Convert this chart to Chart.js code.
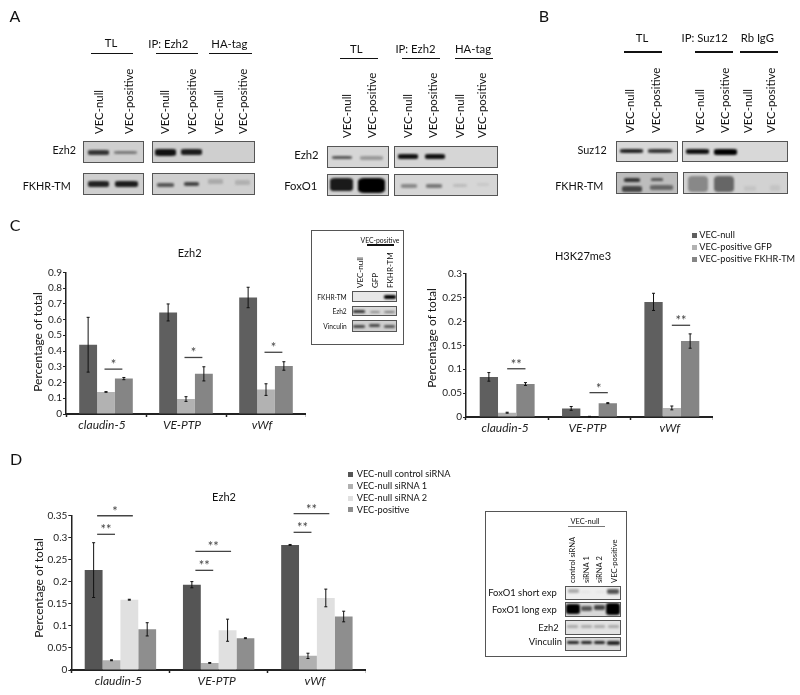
<!DOCTYPE html>
<html>
<head>
<meta charset="utf-8">
<title>Ezh2 figure</title>
<script src="https://cdn.jsdelivr.net/npm/chart.js@4.4.1/dist/chart.umd.min.js"></script>
<style>
  html, body { margin: 0; padding: 0; background: #fff; }
  #page { position: relative; width: 800px; height: 695px; overflow: hidden; font-family: Lato, sans-serif; color: #111; filter: blur(0.35px); }
  #page canvas { position: absolute; }
  .t { position: absolute; white-space: nowrap; line-height: 0; }
  .blot { position: absolute; box-sizing: border-box; border: 1px solid #555; overflow: hidden; }
  .band { position: absolute; border-radius: 22%; filter: blur(0.8px); }
  .rule { position: absolute; }
  .box { position: absolute; box-sizing: border-box; border: 1px solid #555; background: #fff; }
</style>
</head>
<body>
<div id="page"></div>
<script>
// categories shared by all three bar charts
const genes = ['claudin-5', 'VE-PTP', 'vWf'];

// panel C left, Ezh2
const cLeftTicks = ['0', '0.1', '0.2', '0.3', '0.4', '0.5', '0.6', '0.7', '0.8', '0.9'];
const cLeftNull = [0.44, 0.645, 0.74];
const cLeftGfp = [0.14, 0.095, 0.155];
const cLeftFkhr = [0.225, 0.255, 0.305];
const cLeftNullErr = [0.174, 0.054, 0.065];
const cLeftGfpErr = [0.002, 0.015, 0.037];
const cLeftFkhrErr = [0.007, 0.045, 0.027];
const cLeftSig = [[0, 1, 2, 0.285, '*'], [1, 1, 2, 0.359, '*'], [2, 1, 2, 0.392, '*']];

// panel C right, H3K27me3
const cRightTicks = ['0', '0.05', '0.1', '0.15', '0.2', '0.25', '0.3'];
const cRightNull = [0.084, 0.018, 0.241];
const cRightGfp = [0.009, 0.001, 0.019];
const cRightFkhr = [0.069, 0.029, 0.159];
const cRightNullErr = [0.009, 0.004, 0.018];
const cRightGfpErr = [0.001, 0.0005, 0.004];
const cRightFkhrErr = [0.003, 0.001, 0.015];
const cRightSig = [[0, 1, 2, 0.101, '**'], [1, 1, 2, 0.051, '*'], [2, 1, 2, 0.192, '**']];

// panel D, Ezh2 after knockdown
const dTicks = ['0', '0.05', '0.1', '0.15', '0.2', '0.25', '0.3', '0.35'];
const dControl = [0.226, 0.193, 0.283];
const dSi1 = [0.022, 0.016, 0.032];
const dSi2 = [0.159, 0.09, 0.163];
const dPositive = [0.092, 0.072, 0.121];
const dControlErr = [0.062, 0.007, 0.001];
const dSi1Err = [0.001, 0.001, 0.006];
const dSi2Err = [0.001, 0.025, 0.02];
const dPositiveErr = [0.015, 0.001, 0.012];
const dSig = [
  [0, 0, 1, 0.307, '**'], [0, 0, 2, 0.349, '*'],
  [1, 0, 1, 0.2255, '**'], [1, 0, 2, 0.2685, '**'],
  [2, 0, 1, 0.3115, '**'], [2, 0, 2, 0.354, '**']
];

// legends
const cSeries = ['VEC-null', 'VEC-positive GFP', 'VEC-positive FKHR-TM'];
const cColors = ['#5f5f5f', '#b2b2b2', '#858585'];
const dSeries = ['VEC-null control siRNA', 'VEC-null siRNA 1', 'VEC-null siRNA 2', 'VEC-positive'];
const dColors = ['#555555', '#b0b0b0', '#e0e0e0', '#8e8e8e'];

const page = document.getElementById('page');

function text(str, x, y, size, align, style) {
  var el = document.createElement('div');
  el.className = 't';
  el.textContent = str;
  el.style.left = x + 'px';
  el.style.top = y + 'px';
  el.style.fontSize = size + 'px';
  var shift = align == 'right' ? '-100%' : (align == 'left' ? '0' : '-50%');
  el.style.transform = 'translateX(' + shift + ')';
  if (style) el.style.cssText += style;
  page.appendChild(el);
  return el;
}

// rotated text reading upward, starts at (x, bottom)
function upText(str, x, bottom, size) {
  var el = text(str, x, bottom, size, 'left');
  el.style.transformOrigin = '0 0';
  el.style.transform = 'rotate(-90deg)';
}

function rule(x0, x1, y, color) {
  var el = document.createElement('div');
  el.className = 'rule';
  el.style.left = x0 + 'px';
  el.style.top = (y - 0.75) + 'px';
  el.style.width = (x1 - x0) + 'px';
  el.style.height = '1.5px';
  el.style.background = color || '#111';
  page.appendChild(el);
}

function blot(x0, y0, x1, y1, bg, bands) {
  var el = document.createElement('div');
  el.className = 'blot';
  el.style.left = x0 + 'px';
  el.style.top = y0 + 'px';
  el.style.width = (x1 - x0) + 'px';
  el.style.height = (y1 - y0) + 'px';
  el.style.background = bg;
  bands.forEach(function (b) {
    var s = document.createElement('div');
    s.className = 'band';
    s.style.left = (b[0] - b[2] / 2 - x0 - 1) + 'px';
    s.style.top = (b[1] - b[3] / 2 - y0 - 1) + 'px';
    s.style.width = b[2] + 'px';
    s.style.height = b[3] + 'px';
    s.style.background = b[4];
    el.appendChild(s);
  });
  page.appendChild(el);
}

function inset(x0, y0, x1, y1) {
  var el = document.createElement('div');
  el.className = 'box';
  el.style.left = x0 + 'px';
  el.style.top = y0 + 'px';
  el.style.width = (x1 - x0) + 'px';
  el.style.height = (y1 - y0) + 'px';
  page.appendChild(el);
}

// panel letters
text('A', 15, 16, 16);
text('B', 544, 16, 16);
text('C', 15, 225, 16);
text('D', 16, 459, 16);

// panel A left
text('TL', 111, 43, 11.3); rule(90.7, 133.3, 53.7);
text('IP: Ezh2', 168.3, 44, 11.3); rule(155.7, 197.7, 53.7);
text('HA-tag', 229.3, 44, 11.3); rule(209.3, 251.7, 53.7);
[99, 164.7, 218.7].forEach(function (x) { upText('VEC-null', x, 133.5, 11.4); });
[128.7, 192, 243.3].forEach(function (x) { upText('VEC-positive', x, 133.5, 11.4); });
text('Ezh2', 76, 149.7, 10.8, 'right');
text('FKHR-TM', 70.7, 186, 10.8, 'right');
blot(82.7, 141.3, 144.3, 162.7, '#cfcfcf', [[98.7, 152.3, 21, 4.5, '#333'], [126, 152.3, 23, 3.5, '#777']]);
blot(152.3, 141.3, 255.3, 162.7, '#cfcfcf', [[166, 152.3, 21, 6.5, '#111'], [191.7, 152.3, 21, 6, '#1c1c1c']]);
blot(82.7, 173.3, 144.3, 194.7, '#cfcfcf', [[98.7, 184.3, 21, 6, '#222'], [126.7, 184.3, 23, 6, '#1c1c1c']]);
blot(152.3, 173.3, 255.3, 194.7, '#cfcfcf', [[165.7, 185, 17, 4.5, '#555'], [191.7, 184, 15, 4, '#444'], [216, 181.7, 15, 5, '#aaa'], [242.3, 182.3, 15, 5, '#b0b0b0']]);

// panel A middle
text('TL', 356.3, 49, 11.3); rule(340, 378, 58.3);
text('IP: Ezh2', 415.5, 49, 11.3); rule(402.3, 440, 58.3);
text('HA-tag', 473, 49, 11.3); rule(455, 493.3, 58.3);
[346.7, 408.3, 460].forEach(function (x) { upText('VEC-null', x, 138, 11.4); });
[372.3, 433.3, 482.3].forEach(function (x) { upText('VEC-positive', x, 138, 11.4); });
text('Ezh2', 318.7, 155, 11.3, 'right');
text('FoxO1', 317.3, 186, 11.3, 'right');
blot(326.7, 146, 388.7, 167.7, '#d6d6d6', [[341.7, 157.3, 20, 3.5, '#555'], [371.7, 158, 23, 3.5, '#999']]);
blot(394.3, 146, 497.7, 167.7, '#d6d6d6', [[408, 156.7, 20, 5, '#111'], [435, 156.7, 20, 5.5, '#111']]);
blot(326.7, 174.3, 388.7, 196, '#d2d2d2', [[341.7, 185, 23, 13, '#1a1a1a'], [371.7, 185.7, 27, 14.5, '#000']]);
blot(394.3, 174.3, 497.7, 196, '#d6d6d6', [[409, 186, 16, 4, '#888'], [434, 186, 16, 4, '#777'], [460, 186, 14, 3, '#bbb'], [483, 185, 12, 3, '#c8c8c8']]);

// panel B
text('TL', 642, 38.3, 11.3); rule(624, 661.7, 52);
text('IP: Suz12', 704.7, 38.3, 11.3); rule(695.3, 733.3, 52);
text('Rb IgG', 757.3, 38.3, 11.3); rule(740, 777.7, 52);
[630, 700, 748.3].forEach(function (x) { upText('VEC-null', x, 133, 11.4); });
[655.7, 725, 771].forEach(function (x) { upText('VEC-positive', x, 133, 11.4); });
text('Suz12', 606.7, 150, 10.8, 'right');
text('FKHR-TM', 603.3, 186, 10.8, 'right');
blot(616, 140.7, 677.7, 162, '#d8d8d8', [[631.7, 150.7, 23, 4, '#222'], [660, 151.3, 24, 4, '#333']]);
blot(681.7, 140.7, 787.7, 162, '#d8d8d8', [[697.7, 151.3, 23, 4.5, '#111'], [725.7, 152, 23, 6, '#000']]);
blot(616, 172.3, 677.7, 194.3, '#bdbdbd', [[631.7, 180, 16, 3.5, '#333'], [631.7, 188.7, 20, 6, '#444'], [656.7, 179.3, 12, 2.5, '#555'], [661.7, 187.7, 23, 4.5, '#666']]);
blot(682.7, 172.3, 788.3, 194.3, '#d2d2d2', [[698.3, 184, 20, 16, '#888'], [724.3, 184, 20, 16, '#666'], [750, 188.3, 12, 5, '#c4c4c4'], [775, 187.7, 10, 6, '#c4c4c4']]);

// inset in panel C
inset(311, 230, 403.7, 345);
text('VEC-positive', 380, 240, 6.8);
rule(366.7, 394, 245);
upText('VEC-null', 360, 288, 8);
upText('GFP', 375, 288, 8);
upText('FKHR-TM', 390, 288, 8);
text('FKHR-TM', 346.7, 297, 6.6, 'right');
text('Ezh2', 346.7, 311, 6.6, 'right');
text('Vinculin', 346.7, 326, 6.6, 'right');
blot(351.7, 291, 397.3, 302.3, '#e8e8e8', [[390, 296.7, 12, 4, '#000']]);
blot(351.7, 305.7, 397.3, 316, '#d8d8d8', [[359.3, 311.7, 12, 2.5, '#333'], [375, 312, 10, 2, '#888'], [389.3, 312, 11, 2, '#777']]);
blot(351.7, 320, 397.3, 331.7, '#cfcfcf', [[359.3, 326, 12, 3, '#444'], [375, 325.3, 11, 3, '#444'], [390, 326, 11, 3, '#555']]);

// inset in panel D
inset(485, 511, 626.7, 657.3);
text('VEC-null', 585, 521.7, 7.5);
rule(568, 605, 526.7, '#777');
upText('control siRNA', 572.3, 583, 7.6);
upText('siRNA 1', 585.7, 583, 7.6);
upText('siRNA 2', 599.3, 583, 7.6);
upText('VEC-positive', 614, 583, 7.6);
text('FoxO1 short exp', 556.7, 592.7, 9.4, 'right');
text('FoxO1 long exp', 556.7, 610, 9.4, 'right');
text('Ezh2', 558.7, 628, 9.4, 'right');
text('Vinculin', 562, 642, 9.4, 'right');
blot(565, 585.7, 620.7, 600, '#eeeeee', [[573.3, 590.7, 11, 4, '#aaa'], [585, 592, 9, 2, '#e4e4e4'], [600, 592, 9, 2, '#e4e4e4'], [613.3, 591.7, 12, 5, '#555']]);
blot(565, 602.3, 620.7, 617.3, '#d8d8d8', [[572.7, 609, 14, 10, '#000'], [586.7, 608.3, 11, 5, '#555'], [599.3, 607.7, 11, 5, '#444'], [613.3, 609.3, 14, 12, '#000']]);
blot(565, 620.3, 620.7, 635, '#e2e2e2', [[572.7, 626.7, 11, 2.5, '#aaa'], [586, 626.7, 11, 2.5, '#aaa'], [599.3, 626.7, 11, 2.5, '#aaa'], [613.3, 626.7, 11, 2.5, '#aaa']]);
blot(565, 636.7, 620.7, 650.7, '#d8d8d8', [[572.7, 643, 12, 3, '#222'], [586, 643, 11, 3, '#222'], [599.3, 643, 11, 3, '#222'], [613.3, 643, 13, 4, '#222']]);

// chart titles and y titles
text('Ezh2', 189.7, 252.7, 11);
text('H3K27me3', 583, 256, 11);
text('Ezh2', 224, 497.3, 11);
function yTitle(x, y) {
  var el = text('Percentage of total', x, y, 12);
  el.style.transform = 'translateX(-50%) rotate(-90deg)';
}
yTitle(38, 341.7);
yTitle(432, 338);
yTitle(39, 588);

// legends
function legendRow(names, colors, boxX, textX, ys) {
  names.forEach(function (name, i) {
    var sq = document.createElement('div');
    sq.className = 'rule';
    sq.style.left = boxX + 'px';
    sq.style.top = (ys[i] - 2.5) + 'px';
    sq.style.width = '5px';
    sq.style.height = '5px';
    sq.style.background = colors[i];
    page.appendChild(sq);
    text(name, textX, ys[i], 9.2, 'left');
  });
}
legendRow(cSeries, cColors, 692, 699.3, [235, 247.3, 259.3]);
legendRow(dSeries, dColors, 348, 356.7, [474, 486, 498, 509.5]);

// error bars and significance marks, taken off the chart's own scales
const marksPlugin = {
  id: 'marks',
  afterDatasetsDraw: function (chart, args, opts) {
    const ctx = chart.ctx;
    const y = chart.scales.y;
    ctx.save();
    ctx.strokeStyle = '#111';
    ctx.lineWidth = 1;
    chart.data.datasets.forEach(function (ds, d) {
      chart.getDatasetMeta(d).data.forEach(function (bar, i) {
        var top = y.getPixelForValue(ds.data[i] + ds.errors[i]);
        var low = y.getPixelForValue(ds.data[i] - ds.errors[i]);
        ctx.beginPath();
        ctx.moveTo(bar.x, top); ctx.lineTo(bar.x, low);
        ctx.moveTo(bar.x - 1.5, top); ctx.lineTo(bar.x + 1.5, top);
        ctx.moveTo(bar.x - 1.5, low); ctx.lineTo(bar.x + 1.5, low);
        ctx.stroke();
      });
    });
    ctx.strokeStyle = '#444';
    ctx.fillStyle = '#444';
    ctx.lineWidth = 1.3;
    ctx.font = '13px Lato';
    ctx.textAlign = 'center';
    opts.sig.forEach(function (s) {
      var x0 = chart.getDatasetMeta(s[1]).data[s[0]].x + opts.shift;
      var x1 = chart.getDatasetMeta(s[2]).data[s[0]].x + opts.shift;
      var py = y.getPixelForValue(s[3]);
      ctx.beginPath();
      ctx.moveTo(x0, py); ctx.lineTo(x1, py);
      ctx.stroke();
      ctx.fillText(s[4], (x0 + x1) / 2, py);
    });
    ctx.restore();
  }
};

function barChart(cfg) {
  const canvas = document.createElement('canvas');
  canvas.style.left = cfg.left + 'px';
  canvas.style.top = cfg.top + 'px';
  canvas.width = cfg.right - cfg.left;
  canvas.height = cfg.bottom + cfg.below - cfg.top;
  page.appendChild(canvas);
  new Chart(canvas.getContext('2d'), {
    type: 'bar',
    data: {
      labels: genes,
      datasets: cfg.series.map(function (s, i) {
        return { label: cfg.names[i], data: s, errors: cfg.errors[i], backgroundColor: cfg.colors[i], barPercentage: 1, categoryPercentage: cfg.groupWidth };
      })
    },
    options: {
      responsive: false,
      animation: false,
      layout: { autoPadding: false, padding: { top: cfg.axisTop - cfg.top, left: 0, right: 0, bottom: 0 } },
      plugins: { legend: { display: false }, tooltip: { enabled: false }, marks: { sig: cfg.sig, shift: cfg.shift } },
      scales: {
        x: {
          afterFit: function (scale) { scale.height = cfg.below; },
          border: { color: '#222', width: 2 },
          grid: { drawOnChartArea: false, tickLength: 3, color: '#222', tickWidth: 1.5 },
          ticks: { color: '#222', padding: 1, labelOffset: cfg.labelShift, maxRotation: 0, font: { family: 'Lato', style: 'italic', size: 12 } }
        },
        y: {
          min: 0,
          max: cfg.max,
          afterFit: function (scale) { scale.width = cfg.axisLeft - cfg.left; },
          border: { color: '#222', width: 1.5 },
          grid: { drawOnChartArea: false, tickLength: 3, color: '#222' },
          ticks: {
            stepSize: cfg.step,
            autoSkip: false,
            color: '#222',
            padding: 1,
            font: { family: 'Lato', size: 10 },
            callback: function (v, i) { return cfg.ticks[i]; }
          }
        }
      }
    },
    plugins: [marksPlugin]
  });
}

barChart({
  left: 30, right: 306, top: 262, axisLeft: 66, axisTop: 272.3, bottom: 414, below: 26,
  series: [cLeftNull, cLeftGfp, cLeftFkhr], errors: [cLeftNullErr, cLeftGfpErr, cLeftFkhrErr],
  names: cSeries, colors: cColors, ticks: cLeftTicks, max: 0.9, step: 0.1,
  sig: cLeftSig, shift: -1.5, groupWidth: 0.67, labelShift: -4
});
barChart({
  left: 436, right: 713.5, top: 262, axisLeft: 466, axisTop: 273.7, bottom: 417, below: 26,
  series: [cRightNull, cRightGfp, cRightFkhr], errors: [cRightNullErr, cRightGfpErr, cRightFkhrErr],
  names: cSeries, colors: cColors, ticks: cRightTicks, max: 0.3, step: 0.05,
  sig: cRightSig, shift: 0, groupWidth: 0.667, labelShift: -2
});
barChart({
  left: 44, right: 366, top: 496, axisLeft: 71.3, axisTop: 515.3, bottom: 670, below: 25,
  series: [dControl, dSi1, dSi2, dPositive], errors: [dControlErr, dSi1Err, dSi2Err, dPositiveErr],
  names: dSeries, colors: dColors, ticks: dTicks, max: 0.35, step: 0.05,
  sig: dSig, shift: 3.5, groupWidth: 0.727, labelShift: -2
});
</script>
</body>
</html>
